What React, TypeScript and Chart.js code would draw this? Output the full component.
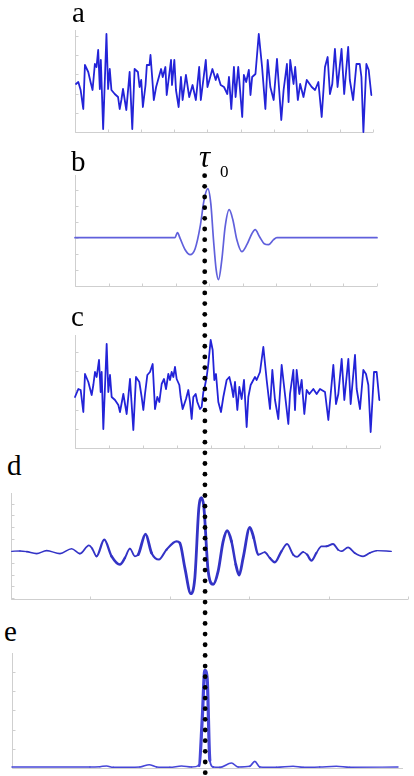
import React, { useEffect, useRef } from 'react';
import { Chart, registerables } from 'chart.js';

Chart.register(...registerables);

// ---------- Panel a: noise signal ----------
const aTime = [
  0.3, 1.0, 1.7, 2.5, 3.0, 4.0, 4.7, 5.3, 6.0, 6.5,
  7.0, 7.5, 7.8, 8.5, 9.5, 10.0, 10.5, 11.0, 12.0, 13.0,
  13.5, 14.0, 14.5, 15.5, 16.5, 17.3, 18.0, 19.0, 19.5, 20.0,
  20.5, 21.3, 21.7, 22.5, 22.8, 23.3, 23.8, 24.5, 26.0, 26.5,
  27.3, 27.7, 29.0, 29.3, 30.0, 30.5, 31.3, 32.0, 32.5, 33.5,
  34.5, 35.5, 36.5, 37.5, 38.0, 39.5, 40.0, 41.5, 42.5, 43.0,
  44.0, 45.0, 46.0, 46.5, 47.2, 48.0, 48.5, 49.3, 50.5, 51.0,
  51.7, 52.5, 53.0, 53.5, 54.5, 55.5, 56.5, 57.5, 58.2, 59.0,
  60.0, 61.0, 62.3, 63.0, 64.0, 64.5, 65.0, 66.0, 66.5, 67.3,
  68.0, 69.0, 70.0, 71.5, 72.5, 73.5, 74.5, 75.5, 76.3, 77.0,
  77.7, 78.5, 79.3, 80.5, 81.3, 82.5, 83.0, 84.0, 85.0, 86.0,
  86.5, 87.1, 88.0, 88.7, 89.5,
];
const aValue = [
  4.8, 5.0, 4.2, 2.3, 6.7, 6.0, 5.0, 4.2, 6.8, 6.5,
  8.2, 4.3, 7.2, 0.3, 9.8, 4.3, 6.3, 4.2, 3.8, 3.5,
  2.3, 3.2, 4.3, 2.2, 6.0, 0.3, 6.3, 6.0, 4.5, 5.2,
  2.5, 4.7, 6.7, 6.7, 7.7, 5.5, 3.2, 4.5, 6.3, 5.5,
  6.5, 3.7, 7.2, 4.7, 7.2, 4.2, 2.5, 5.5, 3.2, 5.7,
  3.5, 4.7, 3.2, 6.5, 3.2, 7.2, 4.5, 6.3, 5.2, 5.8,
  4.7, 4.5, 3.8, 5.5, 2.3, 6.5, 3.5, 6.5, 1.5, 5.7,
  5.0, 6.2, 3.7, 5.5, 5.8, 9.8, 6.5, 2.3, 7.2, 4.5,
  3.2, 7.3, 1.2, 4.2, 6.8, 3.0, 7.2, 4.8, 6.5, 3.2,
  4.8, 3.5, 5.2, 4.5, 4.2, 5.0, 1.5, 6.5, 7.5, 3.8,
  4.8, 8.3, 4.5, 8.3, 3.8, 8.5, 5.2, 3.2, 6.8, 6.8,
  5.5, 0.0, 6.8, 6.2, 3.7,
];

// ---------- Panel b: wavelet ----------
const bTime = [
  0, 29.5, 30.0, 30.7, 31.5, 33.0, 34.5, 36.0, 37.5, 38.7,
  39.8, 40.7, 41.5, 42.3, 43.0, 44.0, 45.0, 46.2, 47.3, 48.5,
  50.0, 51.5, 53.0, 54.0, 55.3, 56.7, 58.0, 59.5, 60.5, 90.5,
];
const bValue = [
  0, 0, 0.03, 0.5, -0.07, -1.2, -1.7, -1.1, 1.1, 3.8,
  4.9, 3.4, -0.2, -3.2, -4.2, -2.2, 1.1, 2.8, 1.8, -0.2,
  -1.4, -0.7, 0.4, 0.8, 0.1, -0.6, -0.7, -0.2, 0, 0,
];

// ---------- Panel c: noise + wavelet ----------
const cTime = [
  0.0, 1.0, 1.7, 2.5, 3.0, 4.0, 5.0, 5.5, 6.0, 6.5,
  7.2, 7.7, 8.0, 8.5, 9.5, 10.0, 10.5, 11.0, 12.0, 13.0,
  13.5, 14.5, 15.5, 16.5, 17.5, 18.3, 19.3, 20.0, 20.5, 21.0,
  21.7, 22.5, 23.3, 24.0, 24.7, 25.3, 26.0, 26.7, 27.3, 28.0,
  28.5, 29.0, 29.5, 30.0, 30.5, 31.3, 31.7, 32.3, 32.8, 33.3,
  34.0, 34.5, 35.0, 35.5, 36.2, 36.7, 37.5, 38.0, 38.5, 38.8,
  39.5, 40.0, 40.7, 41.3, 41.8, 42.3, 43.0, 43.8, 44.5, 45.5,
  46.3, 47.0, 47.5, 48.0, 48.7, 49.3, 50.0, 50.7, 51.5, 52.0,
  52.7, 53.5, 54.0, 54.5, 55.5, 56.5, 57.5, 58.5, 59.2, 60.0,
  61.0, 62.0, 64.0, 64.5, 65.5, 66.0, 66.5, 67.3, 68.0, 68.8,
  69.5, 70.3, 71.5, 72.5, 73.5, 75.0, 76.0, 77.5, 78.3, 79.0,
  80.0, 80.8, 82.0, 82.7, 84.0, 84.5, 85.5, 86.5, 87.3, 88.0,
  88.7, 89.7, 90.5, 91.3,
];
const cValue = [
  5.1, 5.9, 5.8, 3.6, 7.4, 6.6, 5.3, 6.3, 7.6, 7.1,
  8.8, 5.6, 7.6, 1.9, 10.4, 5.6, 7.3, 5.1, 4.8, 4.3,
  3.6, 5.4, 3.4, 6.9, 1.8, 7.1, 6.6, 5.1, 3.8, 5.4,
  7.3, 7.6, 8.4, 3.9, 5.1, 4.6, 6.4, 6.9, 5.9, 7.4,
  6.8, 7.6, 7.1, 8.1, 6.9, 6.3, 5.1, 3.9, 4.4, 4.9,
  5.8, 4.6, 2.9, 5.1, 5.4, 4.6, 3.9, 4.1, 5.6, 5.9,
  7.1, 8.4, 10.8, 9.8, 6.8, 7.4, 4.6, 3.6, 5.1, 6.8,
  7.1, 6.1, 5.1, 6.6, 3.8, 6.1, 4.9, 6.8, 2.1, 5.1,
  6.3, 6.8, 7.1, 6.8, 7.6, 10.1, 6.8, 3.9, 7.8, 4.8,
  2.9, 8.3, 2.4, 5.4, 7.8, 3.8, 7.8, 5.4, 6.8, 3.4,
  5.8, 5.4, 5.9, 5.4, 5.9, 5.6, 2.8, 8.3, 4.4, 5.4,
  8.9, 4.8, 8.9, 4.4, 9.3, 5.9, 3.9, 7.8, 7.4, 6.3,
  1.6, 7.6, 7.6, 4.8,
];

// ---------- Panel d: cross-correlation ----------
const dTime = [
  0.2, 2.7, 4.7, 7.7, 10.7, 14.7, 18.2, 20.7, 23.4, 24.4,
  25.7, 28.0, 30.2, 32.7, 34.2, 35.7, 37.2, 38.2, 40.4, 42.2,
  44.4, 46.7, 49.7, 50.7, 52.2, 54.0, 55.2, 56.4, 57.2, 57.9,
  59.2, 60.7, 62.2, 63.7, 64.9, 66.2, 67.5, 68.5, 69.7, 71.7,
  72.9, 74.2, 76.2, 77.7, 79.2, 81.2, 82.9, 84.7, 85.9, 87.7,
  88.9, 90.2, 91.7, 93.2, 94.7, 96.7, 98.2, 99.2, 101.2, 103.2,
  105.7, 107.7, 109.7, 114.2,
];
const dValue = [
  -0.1, 0, -0.2, -0.8, 0.1, -0.8, 0.7, -0.8, 1.7, 0.7,
  -1.6, 3.4, -1.6, -4.1, -2.1, 0.7, -1.6, -1.1, 5.1, -0.6,
  -2.6, 0.4, 2.9, 2.4, -5.1, -12.9, -8.1, 12.9, 16.1, 13.3,
  -6.1, -10.1, -6.1, 2.9, 6.1, 2.9, -4.1, -7.3, -2.1, 7.1,
  3.9, -1.1, -0.4, -2.1, -3.4, -0.1, 2.1, -1.1, -1.8, -0.3,
  -1.1, -2.9, -0.6, 1.4, 1.4, 2.1, 0.4, -0.1, 1.1, -0.6,
  -1.6, -0.6, 0.1, -0.1,
];

// ---------- Panel e: detection output ----------
const eTime = [
  0, 23.4, 26.4, 28.4, 30.4, 38.4, 41.2, 43.4, 47.4, 50.9,
  53.9, 56.2, 57.1, 57.9, 58.6, 59.4, 60.4, 62.4, 65.9, 67.9,
  71.4, 72.9, 74.4, 79.4, 84.4, 87.4, 92.4, 97.4, 101.4, 115.9,
];
const eValue = [
  0.3, 0.3, 0.4, 0.6, 0.2, 0.3, 1.0, 0.3, 0.2, 0.6,
  0.3, 0.8, 14.3, 29.3, 26.8, 2.3, 0.3, 0.2, 1.5, 0.3,
  0.5, 2.0, 0.3, 0.2, 0.5, 0.2, 0.3, 0.5, 0.2, 0.3,
];

const PANEL_LABELS = ['a', 'b', 'c', 'd', 'e'];
const TAU_LABEL = 'τ';
const TAU_SUB = '0';
const TAU0 = 38.85; // position of τ0 on panel b's time axis

function steps(start: number, end: number, step: number): number[] {
  const out: number[] = [];
  for (let v = start; v <= end + 1e-9; v += step) out.push(v);
  return out;
}

const PAD = 6;

type WidthFn = ((ctx: any) => number) | null;

type PanelDef = {
  t: number[];
  v: number[];
  xMin: number; xMax: number; yMin: number; yMax: number;
  xTicks: number[]; yTicks: number[];
  color: string; width: number; smooth: boolean;
  segWidth: WidthFn;
  box: { left: number; top: number; width: number; height: number };
};

const ampWidth = (base: number, extra: number, full: number) => (ctx: any) => {
  const m = Math.max(Math.abs(ctx.p0.parsed.y), Math.abs(ctx.p1.parsed.y));
  return base + extra * Math.min(m, full) / full;
};

const panels: PanelDef[] = [
  {
    t: aTime, v: aValue, xMin: 0, xMax: 90, yMin: 0, yMax: 10.2,
    xTicks: steps(0, 90, 10), yTicks: steps(0, 10, 1.92),
    color: '#2323d8', width: 1.8, smooth: false, segWidth: null,
    box: { left: 75, top: 30, width: 298, height: 102 },
  },
  {
    t: bTime, v: bValue, xMin: 0, xMax: 90.5, yMin: -4.83, yMax: 6.27,
    xTicks: steps(0, 90.5, 90.5 / 9), yTicks: steps(-4.8, 6.2, 1.6),
    color: '#6060dc', width: 1.7, smooth: true, segWidth: null,
    box: { left: 75, top: 175, width: 302, height: 111 },
  },
  {
    t: cTime, v: cValue, xMin: 0, xMax: 91.5, yMin: 0, yMax: 11.3,
    xTicks: steps(0, 91.5, 91.5 / 9), yTicks: steps(0, 11.2, 1.92),
    color: '#2323d8', width: 1.8, smooth: false, segWidth: null,
    box: { left: 75, top: 335, width: 305, height: 113 },
  },
  {
    t: dTime, v: dValue, xMin: 0, xMax: 119.2, yMin: -14.5, yMax: 17.5,
    xTicks: steps(0, 119.2, 119.2 / 5), yTicks: steps(-14.28, 17.4, 3.57),
    color: '#3333c6', width: 2, smooth: true, segWidth: ampWidth(1.3, 1.5, 5),
    box: { left: 11, top: 493, width: 397, height: 106 },
  },
  {
    t: eTime, v: eValue, xMin: 0, xMax: 117.4, yMin: 0, yMax: 34.5,
    xTicks: [], yTicks: steps(0, 34, 5.76),
    color: '#4646d8', width: 1.5, smooth: true, segWidth: ampWidth(1.4, 1.8, 10),
    box: { left: 12, top: 653, width: 391, height: 115 },
  },
];

function axesPlugin(xTicks: number[], yTicks: number[]) {
  return {
    id: 'thinAxes',
    beforeDatasetsDraw(chart: any) {
      const { ctx, chartArea: a, scales } = chart;
      ctx.save();
      ctx.strokeStyle = '#cfcfcf';
      ctx.lineWidth = 1;
      const L = Math.round(a.left) + 0.5;
      const B = Math.round(a.bottom) + 0.5;
      ctx.beginPath();
      ctx.moveTo(L, a.top);
      ctx.lineTo(L, B);
      ctx.lineTo(a.right, B);
      for (const t of xTicks) {
        const x = Math.round(scales.x.getPixelForValue(t)) + 0.5;
        ctx.moveTo(x, B);
        ctx.lineTo(x, B - 3);
      }
      for (const v of yTicks) {
        const y = Math.round(scales.y.getPixelForValue(v)) + 0.5;
        ctx.moveTo(L, y);
        ctx.lineTo(L + 3, y);
      }
      ctx.stroke();
      ctx.restore();
    },
  };
}

const labelStyle: React.CSSProperties = {
  position: 'absolute',
  fontFamily: '"Liberation Serif", "DejaVu Serif", serif',
  fontSize: 29,
  lineHeight: '29px',
  color: '#000',
  margin: 0,
  whiteSpace: 'nowrap',
};

const labelPos = [
  { left: 72, top: -2 },
  { left: 71, top: 147 },
  { left: 71, top: 302 },
  { left: 7, top: 451 },
  { left: 4, top: 617 },
];

export default function App() {
  const refs = useRef<(HTMLCanvasElement | null)[]>([]);
  const overlayRef = useRef<HTMLCanvasElement | null>(null);

  useEffect(() => {
    const charts: Chart[] = panels.map((p, i) => {
      const canvas = refs.current[i] as HTMLCanvasElement;
      const ds: any = {
        data: p.t.map((x, k) => ({ x, y: p.v[k] })),
        borderColor: p.color,
        borderWidth: p.width,
        pointRadius: 0,
        fill: false,
        tension: p.smooth ? 0.4 : 0,
        cubicInterpolationMode: p.smooth ? 'monotone' : 'default',
        borderJoinStyle: 'round',
        borderCapStyle: 'round',
        clip: false,
      };
      if (p.segWidth) ds.segment = { borderWidth: p.segWidth };
      return new Chart(canvas, {
        type: 'line',
        data: { datasets: [ds] },
        options: {
          animation: false,
          responsive: false,
          maintainAspectRatio: false,
          events: [],
          layout: { padding: PAD },
          plugins: { legend: { display: false }, tooltip: { enabled: false } },
          scales: {
            x: { type: 'linear', display: false, min: p.xMin, max: p.xMax },
            y: { type: 'linear', display: false, min: p.yMin, max: p.yMax },
          },
        },
        plugins: [axesPlugin(p.xTicks, p.yTicks)],
      });
    });

    // dotted τ0 marker, placed through panel b's time scale
    const ov = overlayRef.current;
    if (ov) {
      const ctx = ov.getContext('2d') as CanvasRenderingContext2D;
      ctx.clearRect(0, 0, ov.width, ov.height);
      const b = charts[1];
      const xTop = panels[1].box.left - PAD + b.scales.x.getPixelForValue(TAU0);
      const xBottom = xTop + 0.6;
      const y0 = 175.7;
      const step = 10.66;
      const n = 57;
      ctx.fillStyle = '#000';
      for (let i = 0; i < n; i++) {
        const y = y0 + i * step;
        const x = xTop + ((xBottom - xTop) * i) / (n - 1);
        ctx.beginPath();
        ctx.arc(x, y, 2.4, 0, Math.PI * 2);
        ctx.fill();
      }
    }

    return () => charts.forEach((c) => c.destroy());
  }, []);

  return (
    <div
      style={{
        position: 'absolute',
        left: 0,
        top: 0,
        width: 414,
        height: 776,
        background: '#fff',
        overflow: 'hidden',
      }}
    >
      {panels.map((p, i) => (
        <canvas
          key={i}
          ref={(el) => {
            refs.current[i] = el;
          }}
          width={p.box.width + 2 * PAD}
          height={p.box.height + 2 * PAD}
          style={{
            position: 'absolute',
            left: p.box.left - PAD,
            top: p.box.top - PAD,
            width: p.box.width + 2 * PAD,
            height: p.box.height + 2 * PAD,
          }}
        />
      ))}
      {PANEL_LABELS.map((l, i) => (
        <div key={l} style={{ ...labelStyle, left: labelPos[i].left, top: labelPos[i].top }}>
          {l}
        </div>
      ))}
      <div style={{ ...labelStyle, left: 199, top: 141, fontSize: 31, lineHeight: '31px', fontStyle: 'italic' }}>
        {TAU_LABEL}
      </div>
      <div style={{ ...labelStyle, left: 220, top: 163, fontSize: 17, lineHeight: '17px' }}>{TAU_SUB}</div>
      <canvas
        ref={overlayRef}
        width={414}
        height={776}
        style={{ position: 'absolute', left: 0, top: 0, width: 414, height: 776, pointerEvents: 'none' }}
      />
    </div>
  );
}
